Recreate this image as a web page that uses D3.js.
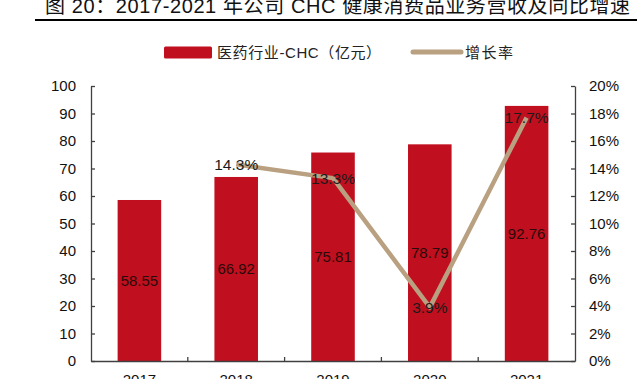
<!DOCTYPE html>
<html><head><meta charset="utf-8">
<script src="https://cdn.jsdelivr.net/npm/d3@7"></script>
<style>
html,body{margin:0;padding:0;background:#fff;}
svg{display:block;}
text{font-family:"Liberation Sans",Arial,"Noto Sans CJK SC",sans-serif;}
</style></head>
<body><svg id="c" width="640" height="379"></svg>
<script>
const categories = ["2017","2018","2019","2020","2021"];
const revenue = [58.55, 66.92, 75.81, 78.79, 92.76];
const growth = [null, 0.143, 0.133, 0.039, 0.177];
const growthLabels = ["", "14.3%", "13.3%", "3.9%", "17.7%"];
const leftTicks = [0,10,20,30,40,50,60,70,80,90,100];
const rightTicks = [0,0.02,0.04,0.06,0.08,0.10,0.12,0.14,0.16,0.18,0.20];
const titleText = "图 20：2017-2021 年公司 CHC 健康消费品业务营收及同比增速";
const legendBar = "医药行业-CHC（亿元）";
const legendLine = "增长率";

const RED = "#c00f1e", TAN = "#b9a081", AX = "#404040";
const svg = d3.select("#c");
const L = 91, R = 575, T = 86, B = 361;

const x = d3.scaleBand().domain(categories).range([L, R]).paddingInner(0.55).paddingOuter(0.275);
const y = d3.scaleLinear().domain([0, 100]).range([B, T]);
const y2 = d3.scaleLinear().domain([0, 0.2]).range([B, T]);

// title
svg.append("text").attr("x", 45).attr("y", 12.5).attr("font-size", 20)
  .attr("textLength", 585).attr("lengthAdjust", "spacing").attr("fill", "#111").text(titleText);
svg.append("line").attr("x1", 35).attr("x2", 637).attr("y1", 20).attr("y2", 20)
  .attr("stroke", "#000").attr("stroke-width", 2);

// legend
svg.append("rect").attr("x", 164).attr("y", 46.5).attr("width", 48).attr("height", 12)
  .attr("rx", 1.5).attr("fill", RED);
svg.append("text").attr("x", 217).attr("y", 57.5).attr("font-size", 15).attr("fill", "#222")
  .attr("letter-spacing", 0.6).text(legendBar);
svg.append("line").attr("x1", 413).attr("x2", 461).attr("y1", 52).attr("y2", 52)
  .attr("stroke", TAN).attr("stroke-width", 5).attr("stroke-linecap", "round");
svg.append("text").attr("x", 465).attr("y", 57.5).attr("font-size", 15).attr("fill", "#222")
  .attr("letter-spacing", 1.5).text(legendLine);

// bars
svg.append("g").selectAll("rect").data(categories).join("rect")
  .attr("x", d => x(d)).attr("width", x.bandwidth())
  .attr("y", (d, i) => y(revenue[i])).attr("height", (d, i) => B - y(revenue[i]))
  .attr("fill", RED);

// axes
const la = svg.append("g").attr("transform", `translate(${L},0)`)
  .call(d3.axisLeft(y).tickValues(leftTicks).tickSizeInner(-4).tickSizeOuter(0).tickPadding(15));
const ra = svg.append("g").attr("transform", `translate(${R},0)`)
  .call(d3.axisRight(y2).tickValues(rightTicks).tickFormat(d3.format(".0%")).tickSizeInner(-4).tickSizeOuter(0).tickPadding(14));
const ba = svg.append("g").attr("transform", `translate(0,${B})`)
  .call(d3.axisBottom(x).tickSize(0).tickPadding(13));
[la, ra, ba].forEach(g => {
  g.selectAll("path.domain").attr("stroke", AX).attr("stroke-width", 1.3);
  g.selectAll(".tick line").attr("stroke", AX).attr("stroke-width", 1.3);
  g.selectAll(".tick text").attr("font-size", 15).attr("fill", "#111")
    .attr("font-family", "'Liberation Sans',Arial,sans-serif");
});
// category boundary ticks
const gap = x.step() * x.paddingInner();
svg.append("g").selectAll("line").data(categories.slice(1)).join("line")
  .attr("x1", d => x(d) - gap / 2).attr("x2", d => x(d) - gap / 2)
  .attr("y1", B).attr("y2", B - 4).attr("stroke", AX).attr("stroke-width", 1.3);

// bar value labels
svg.append("g").selectAll("text").data(categories).join("text")
  .attr("x", d => x(d) + x.bandwidth() / 2)
  .attr("y", (d, i) => (y(revenue[i]) + B) / 2)
  .attr("dy", "0.35em").attr("text-anchor", "middle").attr("font-size", 15)
  .attr("fill", "#2a0a0a").text((d, i) => revenue[i].toFixed(2));

// growth line
const pts = categories.map((c, i) => ({c, v: growth[i], lab: growthLabels[i]})).filter(p => p.v != null);
svg.append("path").datum(pts)
  .attr("d", d3.line().x(p => x(p.c) + x.bandwidth() / 2).y(p => y2(p.v)))
  .attr("fill", "none").attr("stroke", TAN).attr("stroke-width", 4.5).attr("stroke-linejoin", "round");

svg.append("g").selectAll("text").data(pts).join("text")
  .attr("x", p => x(p.c) + x.bandwidth() / 2)
  .attr("y", p => y2(p.v))
  .attr("dy", "0.35em").attr("text-anchor", "middle").attr("font-size", 15.5)
  .attr("fill", "#1a1a1a").text(p => p.lab);
</script></body></html>
